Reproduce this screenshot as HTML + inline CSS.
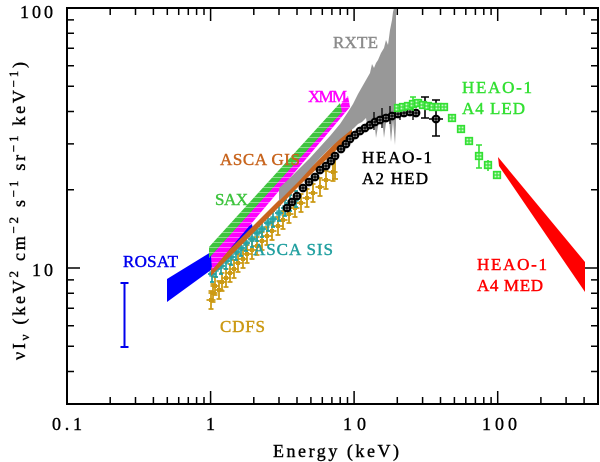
<!DOCTYPE html>
<html><head><meta charset="utf-8"><style>
html,body{margin:0;padding:0;background:#fff;}
svg{display:block;}
text{font-family:"Liberation Serif",serif;}
</style></head><body>
<svg width="600" height="462" viewBox="0 0 600 462" xmlns="http://www.w3.org/2000/svg">
<defs>
<pattern id="hatch" patternUnits="userSpaceOnUse" width="8" height="5"><rect x="0" y="2" width="8" height="1" fill="#fff"/></pattern>
<g id="tm"><path d="M0,-8V8M-2,-8H2M-2,8H2M-4,0H4" stroke="#22a0a0" stroke-width="1.7" fill="none"/><rect x="-2" y="-2" width="4" height="4" fill="none" stroke="#22a0a0" stroke-width="1.3"/></g>
<g id="gm"><path d="M0,-9V9M-2.5,-9H2.5M-2.5,9H2.5M-4.5,0H4.5" stroke="#cc9a14" stroke-width="1.8" fill="none"/><rect x="-2" y="-2" width="4" height="4" fill="#cc9a14"/></g>
<g id="bm"><circle r="3.3" fill="#fff" stroke="#000" stroke-width="2.2"/><path d="M-3.3,0H3.3M0,-3.3V3.3" stroke="#000" stroke-width="1.4"/></g>
<g id="lm"><rect x="-3.3" y="-3.3" width="6.6" height="6.6" fill="#c8f8c8" stroke="#33e033" stroke-width="1.7"/><path d="M-3.3,0H3.3M0,-3.3V3.3" stroke="#33e033" stroke-width="1.2"/></g>
</defs>

<!-- gold CDFS -->
<g>
<use href="#gm" x="211" y="300"/><use href="#gm" x="213" y="293"/><use href="#gm" x="215" y="286"/><use href="#gm" x="219" y="290"/><use href="#gm" x="222" y="282"/><use href="#gm" x="226" y="278"/><use href="#gm" x="230" y="273"/><use href="#gm" x="234" y="269"/><use href="#gm" x="238" y="263"/><use href="#gm" x="243" y="259"/><use href="#gm" x="247" y="254"/><use href="#gm" x="252" y="250"/><use href="#gm" x="257" y="246"/><use href="#gm" x="262" y="241"/><use href="#gm" x="267" y="236"/><use href="#gm" x="272" y="231"/><use href="#gm" x="278" y="226"/><use href="#gm" x="283" y="220"/><use href="#gm" x="289" y="214"/><use href="#gm" x="295" y="208"/><use href="#gm" x="301" y="203"/><use href="#gm" x="307" y="198"/><use href="#gm" x="313" y="193"/><use href="#gm" x="320" y="187"/><use href="#gm" x="326" y="180"/><use href="#gm" x="333" y="172"/>
<path d="M335,156V179M332,156H338M332,179H338" stroke="#cc9a14" stroke-width="1.8"/>
</g>

<!-- teal ASCA SIS -->
<g>
<use href="#tm" x="212" y="274"/><use href="#tm" x="216" y="269"/><use href="#tm" x="221" y="266"/><use href="#tm" x="226" y="261"/><use href="#tm" x="231" y="257"/><use href="#tm" x="236" y="252"/><use href="#tm" x="241" y="248"/><use href="#tm" x="246" y="243"/><use href="#tm" x="252" y="239"/><use href="#tm" x="257" y="233"/><use href="#tm" x="262" y="229"/><use href="#tm" x="268" y="223"/><use href="#tm" x="273" y="219"/><use href="#tm" x="279" y="213"/><use href="#tm" x="285" y="208"/><use href="#tm" x="290" y="203"/><use href="#tm" x="296" y="199"/>
</g>

<!-- blue ROSAT band -->
<polygon points="167,279 211,252 252,224 253,230 211,270 167,302" fill="#0000ff"/>
<!-- orange ASCA GIS -->
<polygon points="211,268 280,199 352,126 352,135 300,185 280,206 211,276" fill="#c8651e"/>
<!-- magenta XMM -->
<polygon points="211,256 348,96 350,107 212,270" fill="#ff00ff"/>
<polygon points="211,256 348,96 350,107 212,270" fill="url(#hatch)" opacity="0.4"/>
<!-- green SAX -->
<polygon points="209,247 340,103 342,112 209,258" fill="#3ec43e"/>
<polygon points="209,247 340,103 342,112 209,258" fill="url(#hatch)" opacity="0.4"/>
<!-- gray RXTE -->
<polygon points="279,188 290,178 300,168 310,158 320,147 330,136 340,124 348,112 353,104 358,94 362,87 366,80 370,73 372,64 374,68 376,63 378,60 381,53 384,48 386,40 388,45 390,30 392,20 393,12 394,8 396,8 396,125 395,145 393,120 391,142 389,118 386,123 384,138 382,117 379,121 376,138 374,118 371,121 368,131 366,118 362,122 358,124 354,128 350,131 340,139 330,148 320,158 310,169 300,180 290,190 279,201" fill="#989898"/>

<!-- red HEAO-1 A4 MED -->
<polygon points="498,157 585,262 585,292 499,166" fill="#ff0000"/>

<!-- black HEAO-1 A2 HED -->
<g>
<path d="M374,112V130M382,108V128M390,106V124M400,106V120M413,108V120" stroke="#000" stroke-width="1.3"/>
<use href="#bm" x="287" y="208"/><use href="#bm" x="292" y="202"/><use href="#bm" x="297" y="196"/><use href="#bm" x="303" y="188"/><use href="#bm" x="309" y="182"/><use href="#bm" x="315" y="177"/><use href="#bm" x="320" y="170"/><use href="#bm" x="326" y="166"/><use href="#bm" x="331" y="161"/><use href="#bm" x="335" y="156"/><use href="#bm" x="341" y="149"/><use href="#bm" x="346" y="144"/><use href="#bm" x="350" y="139"/><use href="#bm" x="355" y="135"/><use href="#bm" x="360" y="131"/><use href="#bm" x="365" y="128"/><use href="#bm" x="370" y="125"/><use href="#bm" x="375" y="122"/><use href="#bm" x="380" y="120"/><use href="#bm" x="386" y="118"/><use href="#bm" x="392" y="116"/><use href="#bm" x="398" y="114"/><use href="#bm" x="404" y="113"/><use href="#bm" x="410" y="112"/><use href="#bm" x="416" y="113"/>
<path d="M425,97V118M421,97H429M421,118H429M436,100V136M432,100H440M432,136H440M429,119H443" stroke="#000" stroke-width="1.6"/>
<use href="#bm" x="436" y="119"/>
</g>

<!-- green HEAO-1 A4 LED -->
<g>
<path d="M413,97V111M410,97H416M479,145V168M476,145H482M476,168H482M488,160V171" stroke="#33e033" stroke-width="1.6"/>
<use href="#lm" x="398" y="108"/><use href="#lm" x="403" y="107"/><use href="#lm" x="408" y="106"/><use href="#lm" x="413" y="104"/><use href="#lm" x="418" y="103"/><use href="#lm" x="423" y="105"/><use href="#lm" x="428" y="106"/><use href="#lm" x="433" y="107"/><use href="#lm" x="438" y="107"/><use href="#lm" x="444" y="107"/><use href="#lm" x="452" y="118"/><use href="#lm" x="461" y="129"/><use href="#lm" x="469" y="141"/><use href="#lm" x="479" y="156"/><use href="#lm" x="488" y="165"/><use href="#lm" x="497" y="175"/>
</g>

<!-- ROSAT error bar -->
<path d="M124.5,283V347M120.5,283H128.5M120.5,347H128.5" stroke="#0000ee" stroke-width="2" fill="none"/>

<!-- axes frame -->
<rect x="67" y="8" width="531" height="396" fill="none" stroke="#000" stroke-width="2"/>
<path stroke="#000" stroke-width="1.5" fill="none" d="
M110.2,8V15M135.5,8V15M153.4,8V15M167.3,8V15M178.7,8V15M188.3,8V15M196.6,8V15M204,8V15M253.8,8V15M279,8V15M297,8V15M310.9,8V15M322.3,8V15M331.9,8V15M340.2,8V15M347.5,8V15M397.3,8V15M422.6,8V15M440.5,8V15M454.4,8V15M465.8,8V15M475.4,8V15M483.8,8V15M491.1,8V15M540.9,8V15M566.1,8V15M584.1,8V15
M210.6,8V21M354.1,8V21M497.7,8V21
M110.2,404V397M135.5,404V397M153.4,404V397M167.3,404V397M178.7,404V397M188.3,404V397M196.6,404V397M204,404V397M253.8,404V397M279,404V397M297,404V397M310.9,404V397M322.3,404V397M331.9,404V397M340.2,404V397M347.5,404V397M397.3,404V397M422.6,404V397M440.5,404V397M454.4,404V397M465.8,404V397M475.4,404V397M483.8,404V397M491.1,404V397M540.9,404V397M566.1,404V397M584.1,404V397
M210.6,404V391M354.1,404V391M497.7,404V391
M67,19.9H74M67,33.2H74M67,48.3H74M67,65.7H74M67,86.3H74M67,111.5H74M67,143.9H74M67,189.7H74M67,279.9H74M67,293.2H74M67,308.3H74M67,325.7H74M67,346.3H74M67,371.5H74
M67,268H80
M598,19.9H591M598,33.2H591M598,48.3H591M598,65.7H591M598,86.3H591M598,111.5H591M598,143.9H591M598,189.7H591M598,279.9H591M598,293.2H591M598,308.3H591M598,325.7H591M598,346.3H591M598,371.5H591
M598,268H585"/>

<!-- tick labels -->
<g font-size="18" fill="#000" stroke="#000" stroke-width="0.4">
<text x="20" y="18" textLength="33" lengthAdjust="spacing">100</text>
<text x="32" y="276" textLength="21" lengthAdjust="spacing">10</text>
<text x="52" y="430" textLength="30" lengthAdjust="spacing">0.1</text>
<text x="206" y="430">1</text>
<text x="343" y="430" textLength="23" lengthAdjust="spacing">10</text>
<text x="482" y="430" textLength="35" lengthAdjust="spacing">100</text>
<text x="273" y="457" textLength="126" lengthAdjust="spacing">Energy (keV)</text>
<text transform="translate(25,211) rotate(-90)" text-anchor="middle" textLength="298" lengthAdjust="spacing">νI<tspan dy="4" font-size="13">ν</tspan><tspan dy="-4"> (keV</tspan><tspan dy="-7" font-size="13">2</tspan><tspan dy="7"> cm</tspan><tspan dy="-7" font-size="13">−2</tspan><tspan dy="7"> s</tspan><tspan dy="-7" font-size="13">−1</tspan><tspan dy="7"> sr</tspan><tspan dy="-7" font-size="13">−1</tspan><tspan dy="7"> keV</tspan><tspan dy="-7" font-size="13">−1</tspan><tspan dy="7">)</tspan></text>
</g>

<!-- series labels -->
<g font-size="17" stroke-width="0.45">
<text x="333" y="48" fill="#8c8c8c" stroke="#8c8c8c" textLength="45" lengthAdjust="spacing">RXTE</text>
<text x="308" y="102" fill="#ff00ff" stroke="#ff00ff" textLength="39" lengthAdjust="spacing">XMM</text>
<text x="220" y="165" fill="#c8651e" stroke="#c8651e" textLength="80" lengthAdjust="spacing">ASCA GIS</text>
<text x="215" y="205" fill="#3ec43e" stroke="#3ec43e" textLength="33" lengthAdjust="spacing">SAX</text>
<text x="253" y="255" fill="#22a0a0" stroke="#22a0a0" textLength="80" lengthAdjust="spacing">ASCA SIS</text>
<text x="123" y="267" fill="#0000ee" stroke="#0000ee" textLength="55" lengthAdjust="spacing">ROSAT</text>
<text x="220" y="332" fill="#cc9a14" stroke="#cc9a14" textLength="45" lengthAdjust="spacing">CDFS</text>
<text x="362" y="163" fill="#000" stroke="#000" textLength="70" lengthAdjust="spacing">HEAO-1</text>
<text x="362" y="184" fill="#000" stroke="#000" textLength="66" lengthAdjust="spacing">A2 HED</text>
<text x="462" y="93" fill="#33e033" stroke="#33e033" textLength="70" lengthAdjust="spacing">HEAO-1</text>
<text x="462" y="114" fill="#33e033" stroke="#33e033" textLength="63" lengthAdjust="spacing">A4 LED</text>
<text x="477" y="270" fill="#ff0000" stroke="#ff0000" textLength="70" lengthAdjust="spacing">HEAO-1</text>
<text x="477" y="291" fill="#ff0000" stroke="#ff0000" textLength="66" lengthAdjust="spacing">A4 MED</text>
</g>
</svg>
</body></html>
